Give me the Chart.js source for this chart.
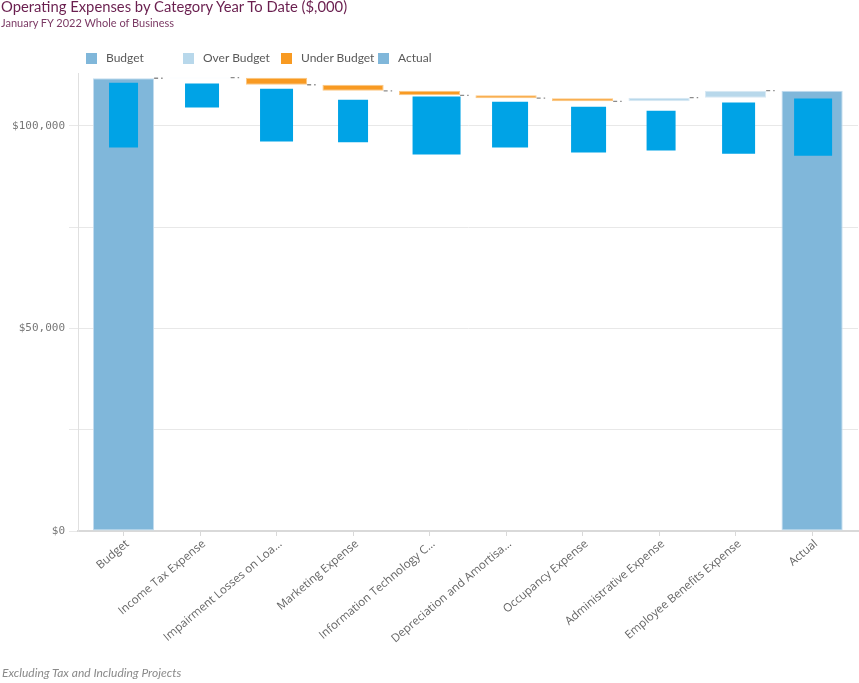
<!DOCTYPE html>
<html><head><meta charset="utf-8">
<script src="https://cdn.jsdelivr.net/npm/chart.js@4.4.1/dist/chart.umd.min.js"></script>
<style>
html,body{margin:0;padding:0;background:#fff;}
#wrap{position:relative;width:859px;height:683px;overflow:hidden;font-family:Lato,"Open Sans",sans-serif;}
#title{position:absolute;left:1px;top:-3px;font-size:14.8px;color:#6a1f4f;white-space:nowrap;}
#subtitle{position:absolute;left:1px;top:16px;font-size:11px;color:#7b3a64;white-space:nowrap;}
.item{position:absolute;top:52px;height:13px;font-size:12px;color:#595959;white-space:nowrap;}
.box{position:absolute;left:0;top:1px;width:11px;height:11px;}
.lbl{position:absolute;left:20px;top:-2px;}
#footer{position:absolute;left:2px;top:665px;font-size:12px;font-style:italic;color:#8a8a8a;white-space:nowrap;}
canvas{position:absolute;left:0;top:0;}
</style></head>
<body>
<div id="wrap">
<canvas id="c" width="859" height="683"></canvas>
<div id="title">Operating Expenses by Category Year To Date ($,000)</div>
<div id="subtitle">January FY 2022 Whole of Business</div>
<div id="legend"></div>
<div id="footer">Excluding Tax and Including Projects</div>
</div>
<script>
// ---- data ----
const categories = ['Budget','Income Tax Expense','Impairment Losses on Loa...','Marketing Expense','Information Technology C...','Depreciation and Amortisa...','Occupancy Expense','Administrative Expense','Employee Benefits Expense','Actual'];
const budgetTotal = 111700;
const actualTotal = 108650;
// variance for categories 1..8 (positive = over budget, negative = under budget)
const variance = [150, -1750, -1500, -1100, -700, -800, 900, 1750];
const innerLow  = [94600, 104500, 96100, 95900, 92900, 94600, 93400, 93900, 93100, 92600];
const innerHigh = [110600, 110400, 109100, 106400, 107200, 105900, 104700, 103700, 105700, 106700];
const yTickValues = [0, 25000, 50000, 75000, 100000];
const yTickLabels = [0, 50000, 100000];
const legendLabels = ['Budget','Over Budget','Under Budget','Actual'];

// ---- styles ----
const colTotal = '#80b7da', colOver = '#b8d8eb', colUnder = '#f89a22', colInner = '#00a3e6';
const legendColors = [colTotal, colOver, colUnder, colTotal];
const legendX = [86, 183, 281, 378];
const innerWidths = [29, 34, 33, 30, 48, 36, 35, 29, 33, 38];
const innerShift  = [0, 2, 0, 0, 7, 4, 6, 2, 3, 1];

// legend (HTML)
const lg = document.getElementById('legend');
legendLabels.forEach((t,i)=>{
  const d=document.createElement('div'); d.className='item'; d.style.left=legendX[i]+'px';
  d.innerHTML='<span class="box" style="background:'+legendColors[i]+'"></span><span class="lbl">'+t+'</span>';
  lg.appendChild(d);
});

// build waterfall
let level = budgetTotal;
const overData = [], underData = [], connData = [];
connData.push({x:0.4,y:level},{x:0.6,y:level},{x:0.6,y:null});
variance.forEach((v,k)=>{
  const i=k+1, from=level; level += v;
  (v>=0 ? overData : underData).push({x:i, y:[from, level]});
  connData.push({x:i+0.4,y:level},{x:i+0.6,y:level},{x:i+0.6,y:null});
});
const innerData = categories.map((c,i)=>({x:i, y:[innerLow[i], innerHigh[i]]}));

const innerPlugin = {
  id:'innerWidths',
  beforeDatasetsDraw(chart){
    const meta = chart.getDatasetMeta(0), xs = chart.scales.x;
    meta.data.forEach((el,i)=>{ el.width = innerWidths[i]; el.x = xs.getPixelForValue(i) + innerShift[i]; });
  }
};

const barCommon = {type:'bar', grouped:false, categoryPercentage:1, barPercentage:0.8, borderSkipped:false};
new Chart(document.getElementById('c'), {
  data:{datasets:[
    Object.assign({}, barCommon, {label:'Inner', data:innerData, backgroundColor:colInner, borderWidth:0, order:0}),
    {type:'line', label:'Connector', data:connData, borderColor:'#8c8c8c', borderWidth:1.3, borderDash:[4,3,1.5,20], pointRadius:0, spanGaps:false, order:1},
    Object.assign({}, barCommon, {label:'Budget', data:[{x:0,y:[0,budgetTotal]}], backgroundColor:colTotal, borderColor:'#c4ddef', borderWidth:1, order:2}),
    Object.assign({}, barCommon, {label:'Over Budget', data:overData, backgroundColor:colOver, borderColor:'#d8e9f4', borderWidth:1, order:2}),
    Object.assign({}, barCommon, {label:'Under Budget', data:underData, backgroundColor:colUnder, borderColor:'#fbc885', borderWidth:1, order:2}),
    Object.assign({}, barCommon, {label:'Actual', data:[{x:9,y:[0,actualTotal]}], backgroundColor:colTotal, borderColor:'#c4ddef', borderWidth:1, order:2})
  ]},
  options:{
    responsive:false, animation:false, devicePixelRatio:1, events:[],
    layout:{padding:{left:0, right:1, top:73, bottom:0}},
    plugins:{legend:{display:false}, tooltip:{enabled:false}, title:{display:false}},
    scales:{
      x:{type:'linear', min:-0.595, max:9.6, offset:false,
        afterBuildTicks(s){ s.ticks = categories.map((c,i)=>({value:i})); },
        afterFit(s){ s.height = 152; },
        grid:{drawOnChartArea:false, offset:false, tickLength:5, color:'#d9d9d9'},
        border:{color:'#d9d9d9', width:2},
        ticks:{autoSkip:false, minRotation:40, maxRotation:40, padding:1, labelOffset:4, color:'#666',
          font:{family:'"Open Sans"', size:11.5},
          callback:(v)=>categories[v] ?? ''}
      },
      y:{type:'linear', min:0, max:113000,
        afterBuildTicks(s){ s.ticks = yTickValues.map(v=>({value:v})); },
        afterFit(s){ s.width = 78; },
        grid:{color:'#e8e8e8', tickLength:9},
        border:{color:'#e0e0e0', width:1},
        ticks:{padding:4, color:'#777', font:{family:'"DejaVu Sans Mono"', size:11},
          callback:(v)=> yTickLabels.includes(v) ? '$'+v.toLocaleString('en-US') : ''}
      }
    }
  },
  plugins:[innerPlugin]
});
</script>
</body></html>
